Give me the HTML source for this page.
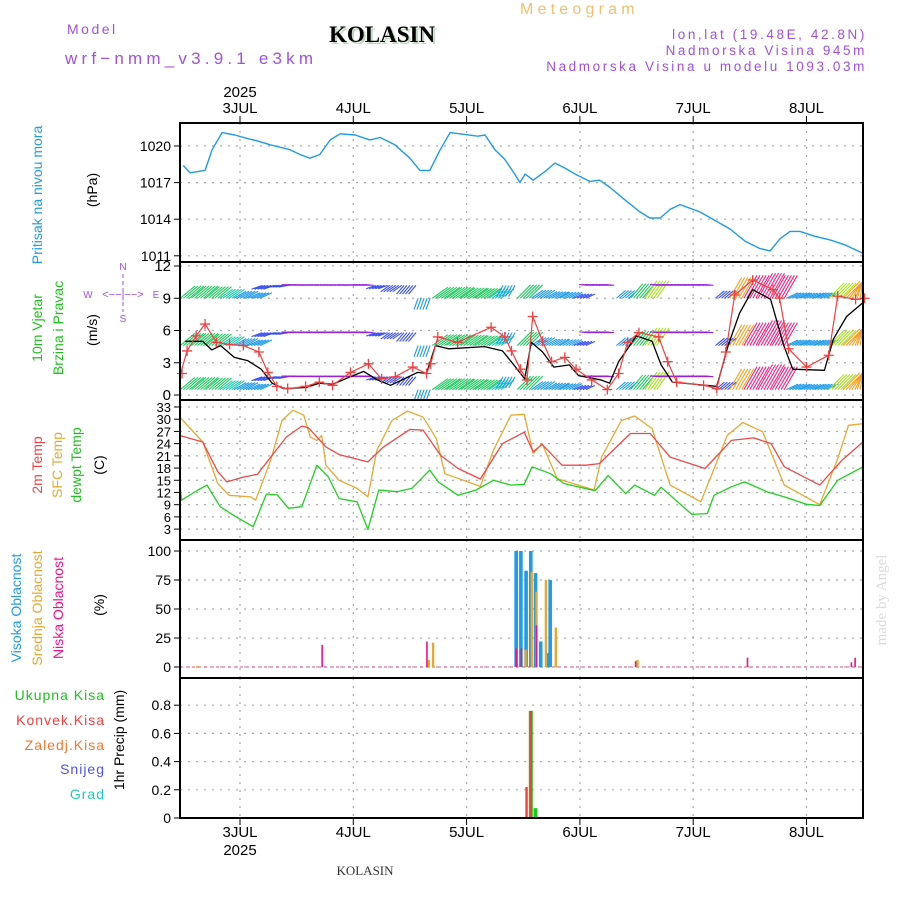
<!DOCTYPE html>
<html><head><meta charset="utf-8"><style>
html,body{margin:0;padding:0;background:#fff;}
svg{display:block;font-family:"Liberation Sans",sans-serif;}
</style></head><body>
<svg id="c" width="900" height="900" viewBox="0 0 900 900" xmlns="http://www.w3.org/2000/svg">
<g>
<text x="520" y="14" font-size="16" fill="#f0c070" letter-spacing="4.2">Meteogram</text>
<text x="67" y="34" font-size="14" fill="#a050e0" letter-spacing="2.5">Model</text>
<text x="65" y="64" font-size="17" fill="#a050e0" letter-spacing="4.2">wrf−nmm_v3.9.1 e3km</text>
<text x="331" y="44" font-size="23" font-weight="bold" font-family="Liberation Serif,serif" fill="#bcd8bc">KOLASIN</text>
<text x="329" y="42" font-size="23" font-weight="bold" font-family="Liberation Serif,serif" fill="#000">KOLASIN</text>
<text x="867" y="39" font-size="13.5" fill="#a050e0" text-anchor="end" letter-spacing="2.6">lon,lat (19.48E, 42.8N)</text>
<text x="867" y="55" font-size="13.5" fill="#a050e0" text-anchor="end" letter-spacing="2.6">Nadmorska Visina 945m</text>
<text x="867" y="71" font-size="13.5" fill="#a050e0" text-anchor="end" letter-spacing="2.6">Nadmorska Visina u modelu 1093.03m</text>
</g>
<g font-size="14">
<text transform="translate(42,195) rotate(-90)" text-anchor="middle" fill="#1e9be9">Pritisak na nivou mora</text>
<text transform="translate(97,190) rotate(-90)" text-anchor="middle" fill="#000">(hPa)</text>
<text transform="translate(42,328) rotate(-90)" text-anchor="middle" fill="#20c020">10m Vjetar</text>
<text transform="translate(63,328) rotate(-90)" text-anchor="middle" fill="#20c020">Brzina i Pravac</text>
<text transform="translate(97,330) rotate(-90)" text-anchor="middle" fill="#000">(m/s)</text>
<g fill="#a050e0" font-size="10" text-anchor="middle">
<text x="123" y="270">N</text><text x="123" y="322">S</text><text x="88" y="298">W</text><text x="156" y="298">E</text>
<text x="123" y="298" font-size="11">&lt;−−|−−&gt;</text>
<line x1="123" y1="274" x2="123" y2="312" stroke="#a050e0" stroke-dasharray="4,3"/>
</g>
<text transform="translate(42,465) rotate(-90)" text-anchor="middle" fill="#f04040">2m Temp</text>
<text transform="translate(62,465) rotate(-90)" text-anchor="middle" fill="#e8a830">SFC Temp</text>
<text transform="translate(81,465) rotate(-90)" text-anchor="middle" fill="#20c020">dewpt Temp</text>
<text transform="translate(104,465) rotate(-90)" text-anchor="middle" fill="#000">(C)</text>
<text transform="translate(21,608) rotate(-90)" text-anchor="middle" fill="#1e9be9">Visoka Oblacnost</text>
<text transform="translate(42,608) rotate(-90)" text-anchor="middle" fill="#e8a830">Srednja Oblacnost</text>
<text transform="translate(63,608) rotate(-90)" text-anchor="middle" fill="#f0108a">Niska Oblacnost</text>
<text transform="translate(104,605) rotate(-90)" text-anchor="middle" fill="#000">(%)</text>
<g text-anchor="end" letter-spacing="1">
<text x="105" y="700" fill="#20c020">Ukupna  Kisa</text>
<text x="105" y="725" fill="#f04040">Konvek.Kisa</text>
<text x="105" y="750" fill="#f07830">Zaledj.Kisa</text>
<text x="105" y="774" fill="#5050f0">Snijeg</text>
<text x="105" y="799" fill="#20c8c8">Grad</text>
</g>
<text transform="translate(124,740) rotate(-90)" text-anchor="middle" fill="#000">1hr Precip (mm)</text>
<text transform="translate(886,600) rotate(-90)" text-anchor="middle" fill="#d8dcd8" font-family="Liberation Serif,serif" font-size="15">made by Angel</text>
<text x="365" y="875" text-anchor="middle" font-family="Liberation Serif,serif" font-size="13" fill="#333">KOLASIN</text>
</g>
<g id="plot"></g>
</svg>
<script>
const dayLabels=["3JUL","4JUL","5JUL","6JUL","7JUL","8JUL"];
const presTicks=[1020,1017,1014,1011];
const windTicks=[12,9,6,3,0];
const tempTicks=[33,30,27,24,21,18,15,12,9,6,3];
const cloudTicks=[100,75,50,25,0];
const precipTicks=[0.8,0.6,0.4,0.2,0];
const precipTickLabels=["0.8","0.6","0.4","0.2","0"];

const presT=[-12,-10.6,-7.4,-5.9,-3.8,-1.1,1.7,3.8,6.4,10.6,12.7,14.8,16.9,19.1,21.2,24.4,27.5,29.7,32.8,36,38.1,40.2,42.4,44.5,46.6,50.4,51.9,54,56.1,58.2,59.3,60.4,62.1,64.6,66.7,68.8,71,74.1,76.2,78.4,81.5,84.7,86.8,89,91.1,93.2,95.3,97.4,100.6,103.8,107,110.1,112.3,114.4,116.5,118.6,121.8,125,128.1,132];
const presV=[1018.4,1017.8,1018.0,1019.7,1021.1,1020.9,1020.6,1020.4,1020.1,1019.7,1019.3,1019.0,1019.3,1020.5,1021.0,1020.9,1020.5,1020.7,1020.1,1019.0,1018.0,1018.0,1019.7,1021.1,1021.0,1020.8,1020.9,1019.7,1018.9,1017.7,1017.0,1017.7,1017.2,1017.9,1018.6,1018.2,1017.7,1017.1,1017.2,1016.6,1015.6,1014.6,1014.1,1014.1,1014.8,1015.2,1014.9,1014.6,1013.9,1013.2,1012.2,1011.6,1011.4,1012.4,1013.0,1013.0,1012.6,1012.3,1011.9,1011.2];

const t2mT=[-13.5,-7.9,-4.7,-2.8,0.5,3.7,6.5,9.8,13.1,14.5,18.2,21,27.1,30.4,36,38.8,42.5,46.2,50.9,55.6,60.2,62.1,64,68.2,73.3,76.1,82.7,86.9,91.1,98.5,104.1,108.8,112.5,115.3,122.8,127.5,132.2];
const t2mV=[26.0,24.4,17.1,14.6,15.7,16.5,20.7,25.6,28.3,27.9,23.2,21.3,19.5,23.2,27.5,27.3,21.1,17.9,15.3,24.0,26.8,22.0,23.8,18.7,18.7,19.1,26.5,26.5,20.7,17.9,24.8,25.4,24.0,18.3,13.8,19.9,24.4];
const sfcT=[-13.5,-7.9,-4.7,-2.3,2.3,3.3,6.5,8.9,11.2,13.5,14.9,16.3,17.3,18.2,21,24.8,27.1,29,32.2,35.5,38.8,41.6,43.4,50.9,53.7,57.4,60.2,62.1,64,67.2,70.5,75,76.6,80.8,83.6,87.3,91.1,97.6,100,103.2,106.5,110.7,115.3,122.8,126.6,128.9,132.2];
const sfcV=[30.5,24.4,14.2,11.3,10.9,10.1,19.9,29.7,32.2,31.0,25.6,24.8,26.0,18.7,15.0,13.0,10.9,22.4,29.7,32.0,30.5,25.2,16.6,13.5,22.4,31.0,31.2,21.6,24.0,15.4,14.2,12.6,20.7,29.7,30.8,27.7,13.8,9.7,16.6,26.0,29.2,26.9,13.8,9.0,20.3,28.5,28.9];
const dewT=[-13.5,-12.4,-8.9,-7,-4.2,-1.4,2.8,5.6,7.9,10.3,13.1,16.3,18.7,21,24.8,27.1,29.4,33.2,36.4,40.2,42,46.2,50,53.7,57.4,60.2,61.9,65.8,68.6,75.2,78,81.7,83.6,87.8,89.2,95.7,99,100.4,104.1,106.9,111.6,115.3,120,122.8,126.6,132.2];
const dewV=[13.8,10.1,12.6,13.8,8.5,6.4,3.6,11.6,11.4,8.1,8.5,18.7,15.8,10.5,9.7,2.9,12.6,12.2,13.0,17.5,14.6,11.3,12.6,15.0,13.8,14.0,18.3,16.6,14.2,12.4,16.2,11.7,13.8,11.3,13.3,6.6,6.8,11.3,13.4,14.6,12.2,10.9,9.1,8.8,15.0,18.3];

const wsT=[-11.6,-7.9,-6,-4.1,-1.2,1.6,4.5,6.8,9.2,13.9,16.8,19.6,23.4,26.2,29.1,31.9,34.8,37.6,39.5,41.4,44.2,51.8,55.6,58,60.3,61.7,64.1,66.5,69.8,71.7,76.4,78.3,80.2,84,87.3,89.2,91.6,101,103.4,105.8,108.6,112.4,115.2,117.1,123.8,125.7,128.5,132.3];
const wsV=[5.0,5.0,4.2,4.6,3.5,3.2,2.4,1.1,0.6,0.7,1.1,1.0,1.7,2.2,1.4,0.9,1.5,2.1,2.0,4.6,4.3,4.5,4.1,2.8,1.5,4.9,4.0,2.6,2.8,1.8,1.4,1.1,3.1,5.5,5.0,2.8,1.2,0.8,4.6,7.6,9.8,8.9,4.6,2.4,2.3,5.2,7.3,8.6];
const gustT=[-12.6,-11.2,-9.3,-7.4,-5,-2.2,0.7,4,5.9,7.8,10.1,13.9,16.8,19.6,23.4,27.2,30,32.9,36.6,39.5,40.4,41.9,46.1,53.2,56.1,57.5,59.4,60.8,62,64.1,66,68.8,71.2,74.5,77.8,80.2,82.1,84.5,88.7,90.6,92.5,98.2,101,102.9,104.8,108.6,112.9,114.3,116.2,120,124.7,126.6,130.4,132.3];
const gustV=[2.0,4.1,5.5,6.6,4.9,4.7,4.6,4.0,2.1,0.8,0.6,0.8,1.2,0.9,2.1,2.9,1.5,1.7,2.6,2.0,2.9,5.4,4.9,6.3,5.4,4.1,2.4,1.4,7.3,5.0,3.1,3.5,2.4,1.4,0.5,2.0,4.9,5.8,5.4,3.1,1.2,0.9,0.6,4.0,9.3,10.7,9.8,9.0,4.3,2.6,3.7,9.2,8.9,9.0];

const windT=[-12,-9,-6,-3,0,3,6,9,12,15,18,21,24,27,30,33,36,39,42,45,48,51,54,57,60,63,66,69,72,75,78,81,84,87,90,93,96,99,102,105,108,111,114,117,120,123,126,129,132];
const windS=[3.0,3.0,2.8,2.3,2.0,1.8,1.5,1.2,1.0,0.8,0.8,0.8,0.8,0.9,1.2,1.4,1.5,1.6,3.0,3.0,2.8,2.6,2.4,1.8,3.0,2.0,1.8,1.6,1.2,1.0,1.0,1.6,3.0,3.5,1.0,0.9,0.9,0.9,1.5,4.0,4.5,5.0,4.5,1.8,1.7,1.8,3.5,4.0,4.0];
const windA=[40,40,40,35,30,25,200,190,175,175,175,175,175,175,200,215,230,250,35,35,35,35,35,240,45,35,30,30,25,175,175,40,50,55,175,175,175,175,40,60,60,60,60,25,25,25,45,45,45];
const windBase=[9.0,4.6,0.5];

const cloudHighT=[58.5,59.5,60.6,61.6,62.6,63.7,65.2,65.7];
const cloudHighV=[100,100,83,100,81,22,12,75];
const cloudMidT=[-9,40,40.9,60.5,61.8,62.8,64.8,66.9,84.2];
const cloudMidV=[1,6,21,15,82,65,75,34,6];
const cloudLowT=[17.4,39.6,58.5,59.6,62.8,83.8,107.5,129.5,130.3];
const cloudLowV=[19,22,16,16,36,5,8,4,8];
const rainT=[60.7,61.6,62.6];
const rainTotalV=[0,0.76,0.07];
const rainConvV=[0.22,0.76,0];

const NS="http://www.w3.org/2000/svg";
const root=document.getElementById('plot');
const L=180,R=863;
function X(t){return 240+t*113.3/24;}
function Yp(p){return 146+(1020-p)*12.2;}
function Yw(v){return 395-v*10.75;}
function Yt(T){return 407+(33-T)*4.07;}
function Yc(c){return 667-c*1.16;}
function Yr(r){return 818-r*141;}
function mk(tag,attrs,parent){const e=document.createElementNS(NS,tag);for(const k in attrs)e.setAttribute(k,attrs[k]);(parent||root).appendChild(e);return e;}
function poly(ts,vs,fy,col,w){let d='';for(let i=0;i<ts.length;i++){const x=Math.max(L,Math.min(R,X(ts[i])));d+=(i?'L':'M')+x.toFixed(1)+' '+fy(vs[i]).toFixed(1);}return mk('path',{d:d,fill:'none',stroke:col,'stroke-width':w||1.4,'stroke-linejoin':'round'});}

// grids
const grid=mk('g',{stroke:'#a8a8a8','stroke-width':1.2,'stroke-dasharray':'2,6'});


const panels=[[123,262],[262,400],[400,540],[540,678],[678,818]];
for(let d=0;d<6;d++){const x=X(d*24);for(const p of panels)mk('line',{x1:x,x2:x,y1:p[0],y2:p[1]},grid);}
function hgrid(ticks,fy){for(const v of ticks)mk('line',{x1:L,x2:R,y1:fy(v),y2:fy(v)},grid);}
hgrid(presTicks,Yp);hgrid(windTicks,Yw);hgrid(tempTicks,Yt);hgrid(cloudTicks,Yc);hgrid(precipTicks,Yr);

// axis tick labels
const ax=mk('g',{'font-size':14,fill:'#000','text-anchor':'end'});


function yaxis(ticks,labels,fy,fs,name){const g=mk('g',{'font-size':fs},ax);


ticks.forEach((v,i)=>{const y=fy(v);mk('line',{x1:L-6,x2:L,y1:y,y2:y,stroke:'#000'},g);const t=mk('text',{x:L-9,y:y+5},g);t.textContent=labels[i];});}
yaxis(presTicks,presTicks.map(String),Yp,14,'pressure-axis');
yaxis(windTicks,windTicks.map(String),Yw,15,'wind-axis');
yaxis(tempTicks,tempTicks.map(String),Yt,13,'temp-axis');
yaxis(cloudTicks,cloudTicks.map(String),Yc,14,'cloud-axis');
yaxis(precipTicks,precipTickLabels,Yr,14,'precip-axis');

// x labels
const xl=mk('g',{'font-size':15,'text-anchor':'middle',fill:'#000'});


dayLabels.forEach((lab,i)=>{const x=X(i*24);
const t1=mk('text',{x:x,y:113},xl);t1.textContent=lab;
const t2=mk('text',{x:x,y:837},xl);t2.textContent=lab;
mk('line',{x1:x,x2:x,y1:116,y2:123,stroke:'#000'},xl);mk('line',{x1:x,x2:x,y1:818,y2:825,stroke:'#000'},xl);});
const y1=mk('text',{x:X(0),y:97},xl);y1.textContent='2025';
const y2=mk('text',{x:X(0),y:855},xl);y2.textContent='2025';

// pressure
const pl=poly(presT,presV,Yp,'#1e9be9',1.4);



// wind arrows
const wg=mk('g',{'stroke-width':1.1,fill:'none'});


function wcol(s){if(s<1.1)return '#9a1ee0';if(s<1.6)return '#3a50f0';if(s<2.1)return '#1e9be9';if(s<2.6)return '#20c8b0';if(s<3.2)return '#20c860';if(s<3.8)return '#a8e020';if(s<4.3)return '#f0a020';return '#f02080';}
for(const b of windBase){for(let i=0;i<windT.length;i++){const s=windS[i],a=windA[i]*Math.PI/180,len=4+s*5,col=wcol(s);
const lift=(Math.cos(a)<-0.5)?1.2:0;
for(const off of [-6,-3,0,3,6]){const x0=X(windT[i])+off;if(x0<L||x0>R)continue;const y0=Yw(b+lift);
const x1=Math.max(L,Math.min(R,x0+len*Math.cos(a))),yy=Math.max(263,y0-len*Math.sin(a));
const ln=mk('line',{x1:x0,y1:y0,x2:x1,y2:yy,stroke:col},wg);

}}}

// wind speed and gusts
const wl=poly(wsT,wsV,Yw,'#000',1.3);


const gl=poly(gustT,gustV,Yw,'#f04040',1.2);


for(let i=0;i<gustT.length;i++){const x=Math.max(L+2,X(gustT[i])),y=Yw(gustV[i]);
const c=mk('path',{d:`M${x-5} ${y}H${x+5}M${x} ${y-5}V${y+5}`,stroke:'#f04040','stroke-width':1.3});

}

// temps
const l1=poly(sfcT,sfcV,Yt,'#e8a830',1.3);


const l2=poly(t2mT,t2mV,Yt,'#f04848',1.3);


const l3=poly(dewT,dewV,Yt,'#20d020',1.3);



// cloud baseline
mk('line',{x1:L,x2:R,y1:Yc(0),y2:Yc(0),stroke:'#e070a0','stroke-width':1.2,'stroke-dasharray':'3,3'});
function bars(ts,vs,fy,col,w,name){for(let i=0;i<ts.length;i++){const x=X(ts[i]),y=fy(vs[i]),y0=fy(0);
const r=mk('rect',{x:x-w/2,y:y,width:w,height:Math.max(0,y0-y),fill:col});

}}
bars(cloudHighT,cloudHighV,Yc,'#1e9be9',3.6,'high-cloud-bar');
bars(cloudMidT,cloudMidV,Yc,'#e8a830',2.4,'mid-cloud-bar');
bars(cloudLowT,cloudLowV,Yc,'#f0108a',1.6,'low-cloud-bar');
bars(rainT,rainTotalV,Yr,'#20c820',4,'total-rain-bar');
bars(rainT,rainConvV,Yr,'#f04040',2.4,'conv-rain-bar');

// frames
const fr=mk('g',{stroke:'#000','stroke-width':2,fill:'none'});


mk('rect',{x:L,y:123,width:R-L,height:818-123},fr);
for(const y of [262,400,540,678])mk('line',{x1:L,x2:R,y1:y,y2:y},fr);
</script>
</body></html>
